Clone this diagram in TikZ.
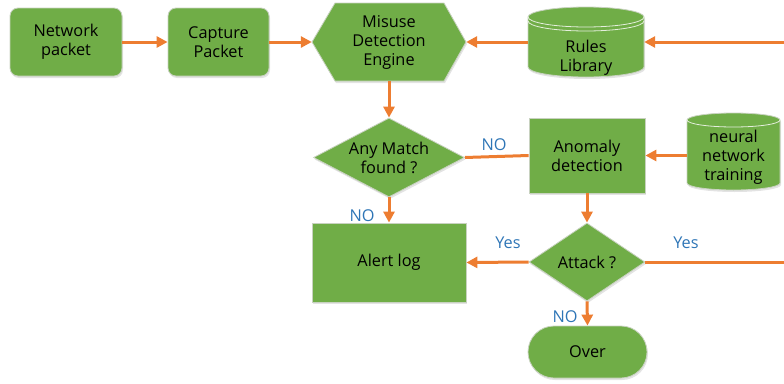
\documentclass[tikz,border=0pt]{standalone}
\usepackage{fontspec}
\setmainfont{Open Sans}
\usetikzlibrary{shapes.geometric,arrows.meta,shadows}
\definecolor{boxgreen}{HTML}{70AD47}
\definecolor{flow}{HTML}{ED7D31}
\definecolor{tag}{HTML}{2E75B6}
\definecolor{rim}{HTML}{C8D2C0}
\definecolor{capline}{HTML}{E4EEDC}
\begin{document}
\begin{tikzpicture}[x=1pt,y=1pt,
  txt/.style={font=\fontsize{16.3}{19}\selectfont, align=center, text=black},
  shade/.style={drop shadow={opacity=0.22,shadow xshift=1pt,shadow yshift=-2pt}},
  box/.style={txt, rectangle, fill=boxgreen, draw=rim, line width=0.8pt, inner sep=0pt, shade},
  rbox/.style={box, rounded corners=8pt},
  choice/.style={txt, diamond, fill=boxgreen, draw=rim, line width=0.8pt, inner sep=0pt, shade},
  bare/.style={txt, rectangle, inner sep=0pt},
  arr/.style={flow, line width=3pt, -{Triangle[length=11pt,width=11pt]}},
  link/.style={flow, line width=3pt},
  lbl/.style={font=\fontsize{16.3}{19}\selectfont, text=tag, inner sep=0pt}
]
\useasboundingbox (0,0) rectangle (784,-383);

% --- top row -------------------------------------------------------
\node[rbox, minimum width=112pt, minimum height=68pt] (net) at (66,-42) {Network\\packet};
\node[rbox, minimum width=101pt, minimum height=68pt] (cap) at (218.5,-42) {Capture\\Packet};

% hexagon of the misuse engine
\path[fill=boxgreen, draw=rim, line width=0.8pt, shade]
  (312,-42) -- (335,-3) -- (444,-3) -- (466,-42) -- (444,-81) -- (335,-81) -- cycle;
\node[bare, minimum width=154pt, minimum height=78pt] (hex) at (389,-42) {Misuse\\Detection\\Engine};

% rules library cylinder
\path[fill=boxgreen, draw=rim, line width=0.8pt, shade]
  (528,-17) -- (528,-67) arc[start angle=180,end angle=360,x radius=58pt,y radius=10pt]
  -- (644,-17) arc[start angle=0,end angle=180,x radius=58pt,y radius=10pt] -- cycle;
\draw[capline, line width=0.8pt] (528,-17) arc[start angle=180,end angle=360,x radius=58pt,y radius=10pt];
\draw[capline, line width=0.8pt] (528,-21) arc[start angle=180,end angle=360,x radius=58pt,y radius=10pt];
\node[bare, minimum width=116pt, minimum height=70pt] (rules) at (586,-42) {};
\node[txt] (rulestext) at (586,-58) {Rules\\Library};

% --- middle row ----------------------------------------------------
\node[choice, minimum width=151pt, minimum height=79pt, aspect=1.9] (match) at (389,-157.5) {Any Match\\found ?};
\node[box, minimum width=116pt, minimum height=75pt] (anom) at (587,-155.5) {Anomaly\\detection};

% neural network cylinder
\path[fill=boxgreen, draw=rim, line width=0.8pt, shade]
  (687,-120) -- (687,-183) arc[start angle=180,end angle=360,x radius=46.5pt,y radius=7pt]
  -- (780,-120) arc[start angle=0,end angle=180,x radius=46.5pt,y radius=7pt] -- cycle;
\draw[capline, line width=0.8pt] (687,-120) arc[start angle=180,end angle=360,x radius=46.5pt,y radius=7pt];
\node[bare, minimum width=93pt, minimum height=77pt] (neural) at (733.5,-151.5) {};
\node[txt] (neuraltext) at (733.5,-157) {neural\\network\\training};

% --- lower rows ----------------------------------------------------
\node[box, minimum width=154pt, minimum height=79pt] (alert) at (389,-262.5) {Alert log};
\node[choice, minimum width=116pt, minimum height=78pt, aspect=1.5] (attack) at (587,-262) {Attack ?};
\node[box, rounded corners=26pt, minimum width=119pt, minimum height=52pt] (over) at (587.5,-352) {Over};

% loose ends at the right border
\coordinate (rulesin) at (784,-42);
\coordinate (yesout) at (784,-262);

% --- connectors ----------------------------------------------------
\draw[arr] (net) -- (cap);
\draw[arr] (cap) -- (hex.west);
\draw[arr] (rulesin) -- (rules.east);
\draw[arr] (rules.west) -- (hex.east);
\draw[arr] (hex.south) -- (match.north);
\draw[link] (match.east) -- (anom.west);
\draw[arr] (anom.east -| neural.west) -- (anom.east);
\draw[arr] (match.south) -- (alert.north);
\draw[arr] (anom.south) -- (attack.north);
\draw[arr] (attack.west) -- (alert.east);
\draw[link] (attack.east) -- (yesout);
\draw[arr] (attack.south) -- (over.north);

% --- branch labels -------------------------------------------------
\node[lbl] (no1) at (494,-145) {NO};
\node[lbl] (no2) at (362,-216) {NO};
\node[lbl] (yes1) at (508,-243) {Yes};
\node[lbl] (yes2) at (686,-243) {Yes};
\node[lbl] (no3) at (565,-317) {NO};
\end{tikzpicture}
\end{document}
